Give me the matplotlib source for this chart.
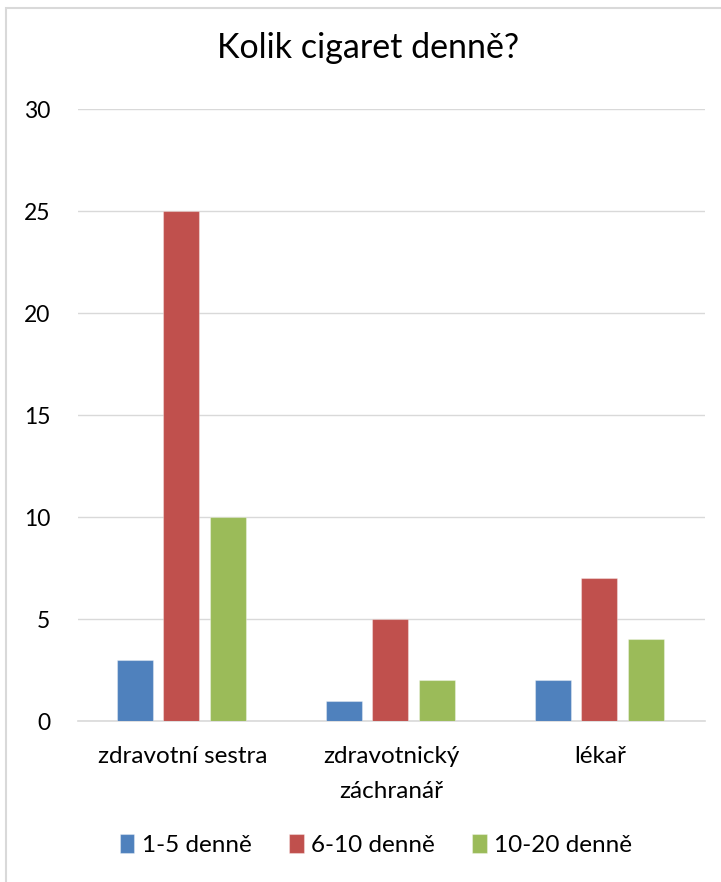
import matplotlib
matplotlib.use("Agg")
import matplotlib.pyplot as plt
import numpy as np
from matplotlib.patches import Rectangle

plt.rcParams['font.family'] = ['Lato', 'DejaVu Sans']

title = "Kolik cigaret denně?"
categories = ["zdravotní sestra", "zdravotnický\nzáchranář", "lékař"]
series_names = ["1-5 denně", "6-10 denně", "10-20 denně"]
values_1_5 = [3, 1, 2]
values_6_10 = [25, 5, 7]
values_10_20 = [10, 2, 4]
colors = ["#4F81BD", "#C0504D", "#9BBB59"]
yticks = [0, 5, 10, 15, 20, 25, 30]

fig = plt.figure(figsize=(7.21, 8.82), dpi=100)
ax = fig.add_axes([78 / 721, 1 - 721 / 882, (705 - 78) / 721, (721 - 109) / 882])

x = np.arange(len(categories))
bar_w = 0.172
step = 0.2225
for i, (vals, name, c) in enumerate(zip([values_1_5, values_6_10, values_10_20], series_names, colors)):
    ax.bar(x + (i - 1) * step - 0.005, vals, width=bar_w, color=c, label=name,
           edgecolor=(1, 1, 1, 0.35), linewidth=0.8, zorder=3)

ax.set_xlim(-0.5, len(categories) - 0.5)
ax.set_ylim(0, 30)
ax.set_yticks(yticks)
ax.set_yticklabels([str(t) for t in yticks], fontsize=16.5, color="#000000")
ax.set_xticks(x)
ax.set_xticklabels(categories, fontsize=17.5, color="#000000", linespacing=1.85)
ax.tick_params(axis="both", length=0)
ax.tick_params(axis="y", pad=20)
ax.tick_params(axis="x", pad=18)
ax.grid(axis="y", color="#D9D9D9", linewidth=1, zorder=0)
ax.set_axisbelow(True)
for s in ["top", "right", "left"]:
    ax.spines[s].set_visible(False)
ax.spines["bottom"].set_color("#D9D9D9")
ax.spines["bottom"].set_linewidth(1.2)

fig.text(0.5 + 8 / 721, 1 - 48 / 882, title, ha="center", va="center", fontsize=24.5, color="#000000")

fig.legend(loc="center", bbox_to_anchor=(376 / 721, 1 - 845 / 882), ncol=3, frameon=False,
           fontsize=17.5, handlelength=0.6, handleheight=0.8, handletextpad=0.3,
           columnspacing=1.55)

fig.patches.append(Rectangle((6 / 721, -0.1), 1.2, 1 - 8 / 882 + 0.1, transform=fig.transFigure,
                             fill=False, edgecolor="#D9D9D9", linewidth=1.5))

fig.savefig("out.png", dpi=100, facecolor="white")
